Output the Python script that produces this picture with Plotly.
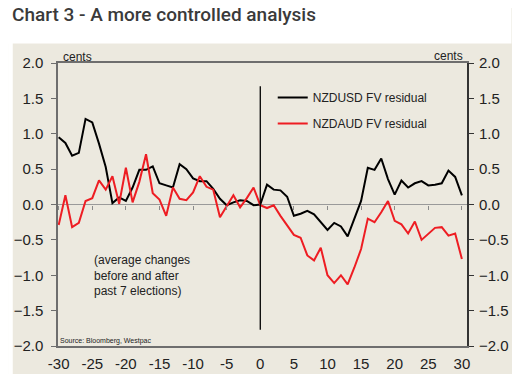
import plotly.graph_objects as go

# ---------------- data ----------------
days = list(range(-30, 31))

nzdusd = [0.95, 0.87, 0.69, 0.73, 1.21, 1.16, 0.86, 0.53, 0.02, 0.10,
          0.05, 0.24, 0.49, 0.49, 0.54, 0.30, 0.27, 0.24, 0.57, 0.50,
          0.37, 0.33, 0.33, 0.22, 0.08, -0.01, 0.03, 0.06, 0.05, -0.01,
          0.00,
          0.28, 0.21, 0.20, 0.11, -0.16, -0.13, -0.09, -0.14, -0.25, -0.36,
          -0.26, -0.31, -0.45, -0.20, 0.05, 0.52, 0.49, 0.65, 0.36, 0.14,
          0.34, 0.24, 0.30, 0.33, 0.27, 0.28, 0.30, 0.48, 0.39, 0.13]

nzdaud = [-0.29, 0.13, -0.32, -0.26, 0.05, 0.09, 0.34, 0.21, 0.40, 0.01,
          0.52, 0.03, 0.32, 0.71, 0.16, 0.07, -0.16, 0.24, 0.08, 0.06,
          0.17, 0.40, 0.25, 0.21, -0.18, -0.03, 0.13, -0.04, 0.09, 0.24,
          -0.01,
          -0.05, -0.01, -0.16, -0.30, -0.43, -0.47, -0.72, -0.79, -0.61, -1.00,
          -1.11, -1.00, -1.13, -0.89, -0.63, -0.20, -0.25, -0.11, 0.05, -0.23,
          -0.28, -0.41, -0.24, -0.50, -0.41, -0.33, -0.32, -0.44, -0.41, -0.77]

series_names = ["NZDUSD FV residual", "NZDAUD FV residual"]
x_ticks = list(range(-30, 31, 5))
y_ticks = [-2.0, -1.5, -1.0, -0.5, 0.0, 0.5, 1.0, 1.5, 2.0]
election_day = 0
election_line_span = [-1.77, 1.67]

title_text = "Chart 3 - A more controlled analysis"
unit_label = "cents"
note_text = "(average changes<br>before and after<br>past 7 elections)"
source_text = "Source: Bloomberg, Westpac"

# ---------------- styling ----------------
OFF = 8                      # page body margin
W, H = 504, 366              # figure covers page 8..512 x 8..374
ML, MR, MT, MB = 50, 44.5, 55, 28
PW, PH = W - ML - MR, H - MT - MB
BEIGE = "#ECE9DF"
FONT = "Liberation Sans, Arial, sans-serif"


def px_x(X):  # page pixel -> paper fraction
    return (X - OFF - ML) / PW


def px_y(Y):
    return (H - MB - (Y - OFF)) / PH


fig = go.Figure()

fig.add_trace(go.Scatter(x=days, y=nzdusd, mode="lines", name=series_names[0],
                         line=dict(color="#000000", width=2), legendgroup="a"))
fig.add_trace(go.Scatter(x=days, y=nzdaud, mode="lines", name=series_names[1],
                         line=dict(color="#EE1D23", width=2), legendgroup="b"))
# right-scale companion (invisible)
fig.add_trace(go.Scatter(x=[days[0]], y=[nzdusd[0]], yaxis="y2", mode="lines",
                         line=dict(width=0), showlegend=False, hoverinfo="skip"))
# zero-line tick-mark axis companion (invisible)
fig.add_trace(go.Scatter(x=[days[0]], y=[nzdusd[0]], xaxis="x2", mode="lines",
                         line=dict(width=0), showlegend=False, hoverinfo="skip"))

shapes = [
    # white page strip above the beige panel (title area)
    dict(type="rect", xref="paper", yref="paper",
         x0=px_x(OFF), x1=px_x(OFF + W), y0=px_y(43.5), y1=px_y(OFF),
         fillcolor="#FFFFFF", line=dict(width=0), layer="above"),
    # white strip left of the panel
    dict(type="rect", xref="paper", yref="paper",
         x0=px_x(OFF), x1=px_x(12.7), y0=px_y(OFF + H), y1=px_y(OFF),
         fillcolor="#FFFFFF", line=dict(width=0), layer="above"),
    # election day vertical line
    dict(type="line", xref="x", yref="y", x0=election_day, x1=election_day,
         y0=election_line_span[0], y1=election_line_span[1],
         line=dict(color="#000000", width=1.3)),
]

annotations = [
    dict(text=unit_label, xref="paper", yref="paper", x=px_x(61), y=px_y(57),
         xanchor="left", yanchor="middle", showarrow=False,
         font=dict(family=FONT, size=12, color="#222222")),
    dict(text=unit_label, xref="paper", yref="paper", x=px_x(465), y=px_y(56),
         xanchor="right", yanchor="middle", showarrow=False,
         font=dict(family=FONT, size=12, color="#222222")),
    dict(text=note_text, xref="paper", yref="paper", x=px_x(92), y=px_y(275),
         xanchor="left", yanchor="middle", align="left", showarrow=False,
         font=dict(family=FONT, size=12, color="#222222")),
    dict(text=source_text, xref="paper", yref="paper", x=px_x(58.5), y=px_y(341),
         xanchor="left", yanchor="middle", showarrow=False,
         font=dict(family=FONT, size=7, color="#222222")),
]

axis_font = dict(family=FONT, size=15, color="#222222")

fig.update_layout(
    width=W, height=H,
    margin=dict(l=ML, r=MR, t=MT, b=MB, pad=0, autoexpand=False),
    paper_bgcolor=BEIGE,
    plot_bgcolor=BEIGE,
    title=dict(text=title_text, xref="container", yref="container",
               x=(12 - OFF) / W, xanchor="left",
               y=1.0, yanchor="top", pad=dict(t=0, b=0, l=0, r=0),
               automargin=False,
               font=dict(family="Roboto, Open Sans, sans-serif", size=19,
                         color="#3A3A3A", weight=500)),
    showlegend=True,
    legend=dict(x=px_x(273), y=px_y(83), xanchor="left", yanchor="top",
                bgcolor="rgba(0,0,0,0)", font=dict(family=FONT, size=12, color="#222222"),
                traceorder="grouped", tracegroupgap=7),
    xaxis=dict(range=[-30.1, 30.76], tickvals=x_ticks, ticktext=[str(v) for v in x_ticks],
               showgrid=False, zeroline=False, ticks="", tickfont=axis_font,
               showline=True, linecolor="#6E6E6E", linewidth=1.5, mirror=True,
               ticklabelstandoff=3, automargin=False),
    xaxis2=dict(range=[-30.1, 30.76], overlaying="x", anchor="free", position=0.5,
                side="bottom", tickvals=x_ticks, showticklabels=False,
                ticks="outside", ticklen=4, tickcolor="#8A8A8A", tickwidth=1,
                showgrid=False, zeroline=False, showline=False, automargin=False),
    yaxis=dict(range=[-2, 2], tickvals=y_ticks, tickformat=".1f", showgrid=False,
               zeroline=True, zerolinecolor="#9A9A9A", zerolinewidth=1,
               ticks="outside", ticklen=5, tickcolor="#6E6E6E", tickfont=axis_font,
               showline=True, linecolor="#6E6E6E", linewidth=1.5,
               ticklabelstandoff=5, automargin=False),
    yaxis2=dict(range=[-2, 2], tickvals=y_ticks, tickformat=".1f", overlaying="y",
                side="right", showgrid=False, zeroline=False,
                ticks="outside", ticklen=5, tickcolor="#333333", tickfont=axis_font,
                showline=True, linecolor="#333333", linewidth=2,
                ticklabelstandoff=2, automargin=False),
    shapes=shapes,
    annotations=annotations,
)

fig.write_html("out.html")
